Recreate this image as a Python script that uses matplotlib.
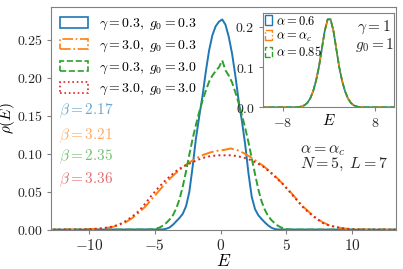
import numpy as np
import matplotlib
matplotlib.use("Agg")
import matplotlib.pyplot as plt
from matplotlib.patches import Patch

plt.rcParams['mathtext.fontset'] = 'cm'
plt.rcParams['font.family'] = 'serif'

# main panel: density of states for N=5, L=7, alpha = alpha_c
# broad series sampled every 0.5, narrow series every 0.25 (histogram bin centres)
broad_E = np.arange(-10.75, 10.76, 0.5)
blue_E = np.arange(-4.375, 4.376, 0.25)
green_E = np.arange(-5.375, 5.376, 0.25)

rho_blue = [0.0004, 0.0013, 0.003, 0.0065, 0.011, 0.0155, 0.021, 0.031, 0.05,
            0.083, 0.12, 0.149, 0.176, 0.208, 0.236, 0.256, 0.268, 0.274,
            0.277, 0.27, 0.254, 0.232, 0.203, 0.17, 0.143, 0.112, 0.074,
            0.043, 0.027, 0.019, 0.014, 0.0095, 0.0055, 0.0025, 0.0009, 0.0003]

rho_orange = [0.0002, 0.0004, 0.0008, 0.0013, 0.0022, 0.0035, 0.006, 0.0095,
              0.015, 0.022, 0.03, 0.04, 0.05, 0.06, 0.069, 0.077, 0.084, 0.09,
              0.095, 0.099, 0.102, 0.104, 0.105, 0.107, 0.105, 0.101, 0.096,
              0.09, 0.084, 0.077, 0.069, 0.06, 0.051, 0.041, 0.031, 0.023,
              0.016, 0.01, 0.006, 0.0037, 0.002, 0.001, 0.0005, 0.0002]

rho_green = [0.0002, 0.0006, 0.0015, 0.003, 0.0055, 0.009, 0.0135, 0.019,
             0.028, 0.04, 0.057, 0.077, 0.099, 0.12, 0.138, 0.155, 0.17,
             0.183, 0.195, 0.203, 0.209, 0.214,
             0.223, 0.21, 0.203, 0.194, 0.181, 0.167, 0.151, 0.134, 0.115,
             0.094, 0.073, 0.053, 0.037, 0.026, 0.018, 0.0125, 0.0085, 0.005,
             0.0028, 0.0014, 0.0006, 0.0002]

rho_red = [0.0003, 0.0005, 0.001, 0.0015, 0.0025, 0.004, 0.0065, 0.011,
           0.017, 0.024, 0.034, 0.045, 0.055, 0.064, 0.072, 0.079, 0.084,
           0.088, 0.092, 0.095, 0.097, 0.098, 0.098, 0.098, 0.097, 0.095,
           0.092, 0.088, 0.083, 0.076, 0.068, 0.06, 0.05, 0.04, 0.03, 0.022,
           0.015, 0.009, 0.0055, 0.0035, 0.002, 0.001, 0.0005, 0.0002]

main_labels = [r'$\gamma=0.3,\; g_0=0.3$', r'$\gamma=3.0,\; g_0=0.3$',
               r'$\gamma=0.3,\; g_0=3.0$', r'$\gamma=3.0,\; g_0=3.0$']
betas = ['2.17', '3.21', '2.35', '3.36']

# inset: gamma = 1, g0 = 1 for three alphas
inset_E = np.arange(-5.75, 5.76, 0.5)
rho_a06 = [0.0002, 0.0006, 0.002, 0.005, 0.011, 0.022, 0.04, 0.066, 0.1,
           0.145, 0.19, 0.218, 0.219, 0.19, 0.144, 0.1, 0.065, 0.04, 0.022,
           0.011, 0.005, 0.002, 0.0006, 0.0002]
rho_ac = [0.0002, 0.0007, 0.002, 0.0052, 0.0112, 0.0215, 0.0405, 0.0665, 0.101,
          0.145, 0.189, 0.217, 0.218, 0.191, 0.145, 0.1, 0.066, 0.0405, 0.0218,
          0.011, 0.0048, 0.002, 0.0006, 0.0002]
rho_a085 = [0.0002, 0.0006, 0.0021, 0.0051, 0.0108, 0.0222, 0.0398, 0.066, 0.1,
            0.146, 0.19, 0.219, 0.218, 0.19, 0.145, 0.099, 0.0655, 0.04, 0.0222,
            0.0112, 0.005, 0.0021, 0.0006, 0.0002]
inset_labels = [r'$\alpha=0.6$', r'$\alpha=\alpha_c$', r'$\alpha=0.85$']

main_xticks = [-10, -5, 0, 5, 10]
main_yticks = [0.0, 0.05, 0.10, 0.15, 0.20, 0.25]
inset_xticks = [-8, 8]
inset_yticks = [0.0, 0.1, 0.2]

colors = ['#1f77b4', '#ff7f0e', '#2ca02c', '#d62728']
styles = ['-', '-.', '--', ':']
frame_color = '0.5'


def with_baseline(E, rho, lo, hi):
    """Add zero-density end points so the empty range is drawn on the baseline."""
    return np.concatenate([[lo], E, [hi]]), np.concatenate([[0.0], rho, [0.0]])


def style_axes(ax, size):
    for sp in ax.spines.values():
        sp.set_color(frame_color)
    ax.tick_params(colors=frame_color, labelcolor='0.15', labelsize=size,
                   length=3, width=0.8, pad=3)


def outline_handles(cols, lss, lw):
    return [Patch(facecolor='none', edgecolor=c, linestyle=ls, linewidth=lw)
            for c, ls in zip(cols, lss)]


fig = plt.figure(figsize=(4.03, 2.69), dpi=100)
ax = fig.add_axes([0.1266, 0.1461, 0.8561, 0.8268])

series = [(blue_E, rho_blue), (broad_E, rho_orange),
          (green_E, rho_green), (broad_E, rho_red)]
for (E, vals), c, ls in zip(series, colors, styles):
    x, y = with_baseline(E, vals, -13.5, 13.5)
    ax.plot(x, y, color=c, linestyle=ls, linewidth=1.4)

ax.set_xlim(-12.9, 13.35)
ax.set_ylim(0, 0.293)
ax.set_xticks(main_xticks)
ax.set_xticklabels([f'${t}$' for t in main_xticks])
ax.set_yticks(main_yticks)
ax.set_yticklabels([f'${t:.2f}$' for t in main_yticks])
style_axes(ax, 11)
ax.tick_params(axis='y', labelsize=10)
ax.set_xlabel(r'$E$', fontsize=12.5)
ax.set_ylabel(r'$\rho(E)$', fontsize=11)
ax.xaxis.set_label_coords(0.5, -0.105)
ax.yaxis.set_label_coords(-0.1, 0.5)

ax.legend(outline_handles(colors, styles, 1.2), main_labels, loc='upper left',
          fontsize=10, frameon=False, handlelength=2.0, handleheight=0.75,
          handletextpad=0.8, labelspacing=0.4, borderaxespad=0.25)

beta_y = [0.535, 0.422, 0.33, 0.225]
for b, c, yy in zip(betas, colors, beta_y):
    ax.text(0.022, yy, rf'$\beta={b}$', color=c, alpha=0.65, fontsize=11,
            transform=ax.transAxes, va='center')

ax.text(0.723, 0.362, r'$\alpha=\alpha_c$', fontsize=11.5, color='0.15',
        transform=ax.transAxes, va='center')
ax.text(0.723, 0.292, r'$N=5,\; L=7$', fontsize=11.5, color='0.15',
        transform=ax.transAxes, va='center')

# inset
axi = fig.add_axes([0.6526, 0.6011, 0.3251, 0.3517])
inset_series = [rho_a06, rho_ac, rho_a085]
inset_styles = ['-', '-.', '--']
for vals, c, ls in zip(inset_series, colors[:3], inset_styles):
    x, y = with_baseline(inset_E, vals, -12.0, 12.0)
    axi.plot(x, y, color=c, linestyle=ls, linewidth=1.2)
axi.set_xlim(-11.4, 11.2)
axi.set_ylim(0, 0.235)
axi.set_xticks(inset_xticks)
axi.set_xticklabels([f'${t}$' for t in inset_xticks])
axi.set_yticks(inset_yticks)
axi.set_yticklabels([f'${t:.1f}$' for t in inset_yticks])
style_axes(axi, 10)
axi.set_xlabel(r'$E$', fontsize=11)
axi.xaxis.set_label_coords(0.5, -0.06)
axi.legend(outline_handles(colors[:3], inset_styles, 1.0), inset_labels,
           loc='upper left', fontsize=9, frameon=False, handlelength=0.6,
           handleheight=0.9, handletextpad=0.3, labelspacing=0.15,
           borderaxespad=0.0, borderpad=0.15)
axi.text(0.72, 0.85, r'$\gamma=1$', fontsize=11, color='0.15',
         transform=axi.transAxes, va='center')
axi.text(0.70, 0.66, r'$g_0=1$', fontsize=11, color='0.15',
         transform=axi.transAxes, va='center')

fig.savefig('out.png', dpi=100)
